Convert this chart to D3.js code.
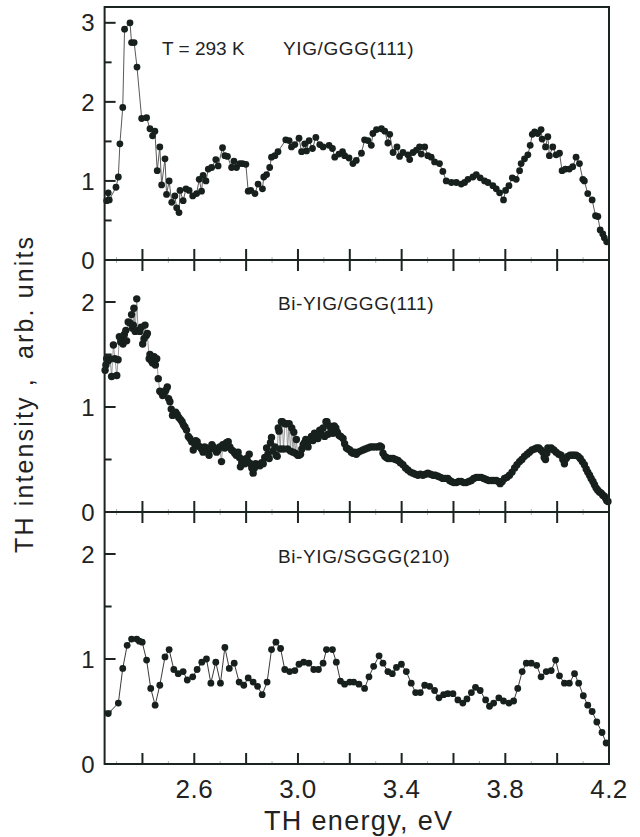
<!DOCTYPE html>
<meta charset="utf-8">
<style>
body { margin: 0; background: #fff; }
svg text { font-family: "Liberation Sans", Arial, Helvetica, sans-serif; fill: #222; }
.frame { fill: none; stroke: #1b2420; stroke-width: 2px; }
.tick { stroke: #1b2420; stroke-width: 2px; }
.mtick { stroke: #b5b5b5; stroke-width: 1px; }
.dot { fill: #17201c; }
</style>
<body>
<script src="https://d3js.org/d3.v7.min.js" charset="utf-8"></script>
<script>

// [TH energy (eV), TH intensity (arb. units)]
var yigGGG = [
  [2.262,0.75],[2.268,0.85],[2.272,0.76],[2.298,0.92],[2.307,1.05],[2.313,1.47],[2.324,1.93],[2.331,2.92],[2.352,3.00],[2.358,2.75],
  [2.368,2.75],[2.379,2.44],[2.397,1.79],[2.416,1.80],[2.429,1.66],[2.439,1.57],[2.448,1.63],[2.457,1.13],[2.467,1.43],[2.474,0.95],
  [2.487,1.28],[2.493,0.83],[2.503,1.00],[2.513,0.73],[2.525,0.81],[2.532,0.66],[2.541,0.60],[2.545,0.88],[2.557,0.75],[2.568,0.90],
  [2.580,0.88],[2.594,0.81],[2.609,0.84],[2.619,1.02],[2.628,0.87],[2.634,1.07],[2.645,1.00],[2.654,1.15],[2.667,1.17],[2.683,1.27],
  [2.692,1.19],[2.709,1.42],[2.718,1.32],[2.728,1.31],[2.744,1.17],[2.753,1.25],[2.763,1.17],[2.776,1.22],[2.786,1.22],[2.799,1.21],
  [2.808,0.87],[2.818,0.88],[2.834,0.84],[2.846,0.96],[2.863,0.90],[2.868,1.05],[2.879,1.08],[2.891,1.17],[2.898,1.30],[2.911,1.32],
  [2.923,1.37],[2.953,1.52],[2.966,1.51],[2.975,1.43],[2.988,1.46],[3.004,1.54],[3.014,1.37],[3.026,1.47],[3.033,1.38],[3.043,1.51],
  [3.056,1.41],[3.069,1.55],[3.084,1.46],[3.097,1.43],[3.120,1.45],[3.133,1.41],[3.142,1.30],[3.158,1.34],[3.172,1.37],[3.180,1.32],
  [3.197,1.29],[3.212,1.22],[3.225,1.26],[3.245,1.35],[3.257,1.52],[3.270,1.51],[3.283,1.45],[3.289,1.60],[3.303,1.65],[3.322,1.66],
  [3.335,1.63],[3.347,1.48],[3.354,1.59],[3.367,1.36],[3.382,1.43],[3.392,1.31],[3.405,1.36],[3.424,1.33],[3.431,1.27],[3.444,1.36],
  [3.457,1.39],[3.469,1.43],[3.476,1.34],[3.489,1.43],[3.501,1.32],[3.514,1.30],[3.527,1.24],[3.546,1.22],[3.559,1.12],[3.572,1.00],
  [3.592,0.98],[3.611,0.98],[3.630,0.96],[3.643,0.98],[3.656,1.02],[3.675,1.05],[3.688,1.08],[3.703,1.04],[3.720,1.00],[3.733,0.98],
  [3.752,0.94],[3.765,0.90],[3.778,0.85],[3.793,0.76],[3.801,0.88],[3.814,0.94],[3.827,1.04],[3.842,1.02],[3.855,1.13],[3.861,1.22],
  [3.874,1.28],[3.887,1.33],[3.896,1.45],[3.904,1.59],[3.913,1.62],[3.925,1.60],[3.938,1.65],[3.942,1.53],[3.955,1.43],[3.964,1.56],
  [3.970,1.32],[3.983,1.43],[3.996,1.33],[4.009,1.35],[4.019,1.13],[4.032,1.15],[4.047,1.15],[4.060,1.18],[4.073,1.30],[4.086,1.22],
  [4.099,1.02],[4.105,1.00],[4.118,0.84],[4.135,0.76],[4.148,0.56],[4.157,0.55],[4.166,0.38],[4.176,0.33],[4.182,0.28],[4.191,0.23]
];

var biYigGGG = [
  [2.256,1.35],[2.259,1.40],[2.262,1.46],[2.268,1.44],[2.275,1.46],[2.281,1.29],[2.288,1.59],[2.294,1.46],[2.301,1.30],[2.306,1.45],
  [2.311,1.67],[2.316,1.62],[2.320,1.64],[2.325,1.60],[2.330,1.69],[2.336,1.73],[2.339,1.63],[2.345,1.81],[2.352,1.80],[2.358,1.88],
  [2.362,1.75],[2.365,1.78],[2.367,1.94],[2.372,1.72],[2.378,2.03],[2.383,1.73],[2.390,1.72],[2.395,1.76],[2.401,1.60],[2.406,1.65],
  [2.410,1.78],[2.415,1.68],[2.419,1.70],[2.426,1.46],[2.429,1.50],[2.434,1.44],[2.439,1.42],[2.445,1.48],[2.450,1.40],[2.455,1.46],
  [2.461,1.27],[2.467,1.15],[2.472,1.14],[2.478,1.11],[2.484,1.13],[2.490,1.16],[2.496,1.19],[2.501,1.08],[2.506,1.05],[2.511,0.98],
  [2.516,0.92],[2.522,0.94],[2.528,0.95],[2.534,0.93],[2.540,0.90],[2.547,0.88],[2.553,0.86],[2.558,0.83],[2.564,0.81],[2.570,0.78],
  [2.577,0.72],[2.583,0.70],[2.590,0.67],[2.596,0.59],[2.601,0.65],[2.606,0.68],[2.611,0.67],[2.616,0.63],[2.622,0.62],[2.628,0.60],
  [2.634,0.57],[2.640,0.62],[2.647,0.61],[2.652,0.58],[2.657,0.54],[2.663,0.60],[2.668,0.64],[2.673,0.62],[2.679,0.60],[2.686,0.57],
  [2.692,0.59],[2.698,0.62],[2.705,0.48],[2.710,0.64],[2.718,0.61],[2.724,0.66],[2.731,0.67],[2.737,0.62],[2.744,0.59],[2.750,0.58],
  [2.756,0.56],[2.762,0.54],[2.769,0.57],[2.774,0.52],[2.778,0.43],[2.783,0.47],[2.788,0.50],[2.795,0.46],[2.802,0.51],[2.807,0.48],
  [2.812,0.55],[2.817,0.46],[2.822,0.42],[2.827,0.37],[2.832,0.42],[2.837,0.46],[2.845,0.45],[2.853,0.44],[2.860,0.47],[2.866,0.46],
  [2.872,0.52],[2.879,0.61],[2.884,0.55],[2.889,0.51],[2.894,0.66],[2.898,0.71],[2.904,0.58],[2.911,0.62],[2.916,0.54],[2.920,0.53],
  [2.924,0.80],[2.927,0.77],[2.932,0.60],[2.936,0.86],[2.940,0.86],[2.944,0.60],[2.950,0.84],[2.956,0.84],[2.960,0.60],[2.966,0.84],
  [2.971,0.58],[2.976,0.80],[2.981,0.57],[2.984,0.76],[2.990,0.56],[2.994,0.69],[2.999,0.54],[3.004,0.54],[3.010,0.55],[3.015,0.60],
  [3.020,0.64],[3.025,0.66],[3.030,0.69],[3.035,0.65],[3.039,0.62],[3.045,0.68],[3.052,0.72],[3.058,0.68],[3.064,0.75],[3.071,0.73],
  [3.077,0.70],[3.084,0.78],[3.090,0.74],[3.097,0.80],[3.103,0.72],[3.108,0.86],[3.112,0.86],[3.116,0.74],[3.122,0.82],[3.129,0.78],
  [3.135,0.75],[3.140,0.82],[3.146,0.80],[3.152,0.76],[3.158,0.73],[3.165,0.72],[3.174,0.70],[3.180,0.65],[3.187,0.61],[3.193,0.60],
  [3.200,0.59],[3.206,0.57],[3.212,0.56],[3.218,0.57],[3.225,0.55],[3.232,0.57],[3.241,0.58],[3.251,0.59],[3.260,0.60],[3.270,0.61],
  [3.280,0.62],[3.289,0.62],[3.299,0.62],[3.309,0.62],[3.316,0.63],[3.322,0.62],[3.328,0.56],[3.335,0.53],[3.341,0.52],[3.347,0.51],
  [3.357,0.51],[3.367,0.51],[3.376,0.50],[3.386,0.49],[3.395,0.47],[3.405,0.45],[3.415,0.42],[3.424,0.40],[3.434,0.38],[3.444,0.37],
  [3.453,0.36],[3.463,0.35],[3.472,0.36],[3.482,0.35],[3.492,0.36],[3.501,0.37],[3.511,0.36],[3.521,0.35],[3.530,0.35],[3.540,0.34],
  [3.550,0.33],[3.559,0.32],[3.569,0.32],[3.578,0.32],[3.585,0.30],[3.592,0.29],[3.601,0.28],[3.611,0.28],[3.620,0.29],[3.630,0.29],
  [3.640,0.28],[3.649,0.28],[3.659,0.29],[3.669,0.30],[3.678,0.32],[3.688,0.33],[3.697,0.33],[3.707,0.33],[3.717,0.32],[3.726,0.31],
  [3.736,0.30],[3.746,0.30],[3.755,0.30],[3.765,0.30],[3.773,0.29],[3.780,0.27],[3.788,0.29],[3.797,0.32],[3.806,0.33],[3.816,0.35],
  [3.826,0.38],[3.836,0.42],[3.845,0.45],[3.855,0.48],[3.864,0.50],[3.874,0.53],[3.884,0.55],[3.893,0.57],[3.903,0.59],[3.913,0.60],
  [3.921,0.61],[3.929,0.61],[3.937,0.59],[3.945,0.57],[3.950,0.52],[3.955,0.50],[3.960,0.56],[3.964,0.61],[3.970,0.60],[3.977,0.61],
  [3.987,0.59],[3.996,0.57],[4.006,0.55],[4.015,0.54],[4.022,0.50],[4.028,0.46],[4.035,0.51],[4.041,0.53],[4.050,0.54],[4.058,0.54],
  [4.065,0.54],[4.073,0.54],[4.081,0.53],[4.089,0.51],[4.097,0.48],[4.105,0.45],[4.112,0.41],[4.118,0.38],[4.125,0.35],[4.131,0.32],
  [4.138,0.29],[4.144,0.26],[4.150,0.23],[4.156,0.21],[4.163,0.19],[4.170,0.18],[4.176,0.16],[4.182,0.15],[4.187,0.13],[4.191,0.11],
  [4.196,0.10]
];

var biYigSGGG = [
  [2.268,0.48],[2.307,0.58],[2.324,0.91],[2.341,1.13],[2.358,1.19],[2.378,1.19],[2.388,1.17],[2.399,1.16],[2.416,0.99],[2.432,0.72],
  [2.449,0.56],[2.467,0.75],[2.487,1.02],[2.503,1.09],[2.521,0.90],[2.538,0.86],[2.557,0.88],[2.573,0.80],[2.594,0.83],[2.611,0.90],
  [2.629,0.97],[2.647,1.00],[2.664,0.77],[2.683,0.97],[2.701,0.77],[2.718,1.11],[2.735,0.91],[2.754,0.96],[2.773,0.78],[2.791,0.75],
  [2.808,0.82],[2.827,0.78],[2.844,0.74],[2.862,0.66],[2.881,0.78],[2.898,1.09],[2.915,1.16],[2.933,1.10],[2.949,0.90],[2.968,0.88],
  [2.988,0.89],[3.004,0.95],[3.022,0.97],[3.042,0.96],[3.061,0.90],[3.079,0.90],[3.097,0.96],[3.110,1.09],[3.133,1.09],[3.148,0.97],
  [3.164,0.79],[3.180,0.76],[3.200,0.78],[3.215,0.78],[3.235,0.76],[3.257,0.72],[3.274,0.83],[3.292,0.93],[3.313,1.03],[3.328,0.96],
  [3.347,0.88],[3.364,0.86],[3.380,0.92],[3.399,0.95],[3.418,0.88],[3.437,0.77],[3.454,0.68],[3.472,0.68],[3.489,0.75],[3.508,0.74],
  [3.527,0.70],[3.544,0.63],[3.562,0.66],[3.578,0.67],[3.598,0.67],[3.617,0.61],[3.636,0.58],[3.652,0.62],[3.669,0.68],[3.685,0.73],
  [3.703,0.70],[3.724,0.61],[3.739,0.55],[3.755,0.58],[3.775,0.63],[3.793,0.60],[3.814,0.58],[3.832,0.60],[3.848,0.72],[3.865,0.88],
  [3.881,0.96],[3.900,0.96],[3.921,0.94],[3.938,0.83],[3.958,0.88],[3.977,0.89],[3.994,0.99],[4.009,0.84],[4.028,0.77],[4.047,0.77],
  [4.067,0.86],[4.083,0.77],[4.101,0.65],[4.118,0.56],[4.135,0.50],[4.153,0.40],[4.173,0.30],[4.189,0.20]
];

var sampleLabels = ["YIG/GGG(111)", "Bi-YIG/GGG(111)", "Bi-YIG/SGGG(210)"];
var tempLabel = "T = 293 K";
var xTickLabels = [2.6, 3.0, 3.4, 3.8, 4.2];
var xMajorTicks = [2.4, 2.6, 2.8, 3.0, 3.2, 3.4, 3.6, 3.8, 4.0];
var xMinorTicks = [2.3, 2.5, 2.7, 2.9, 3.1, 3.3, 3.5, 3.7, 3.9, 4.1];
var yTopLabels = [0, 1, 2, 3];
var yLowLabels = [0, 1, 2];

var width = 640,
    height = 837;

var svg = d3.select("body").append("svg")
    .attr("width", width)
    .attr("height", height);

var left = 104.6, right = 609;

var x = d3.scaleLinear()
    .domain([2.254, 4.2])
    .range([left, right]);

// one entry per stacked panel, top to bottom
var panels = [
  { data: yigGGG, top: 7, bottom: 260, ymax: 3.2, labels: yTopLabels, minor: [0.5, 1.5, 2.5],
    name: sampleLabels[0], nameX: 283, nameY: 55, line: "#5a5a5a", lineW: 1, r: 3.4, ticksTop: false },
  { data: biYigGGG, top: 260, bottom: 512, ymax: 2.4, labels: yLowLabels, minor: [0.5, 1.5],
    name: sampleLabels[1], nameX: 278, nameY: 310, line: "#9a9a9a", lineW: 1, r: 3.7, ticksTop: true },
  { data: biYigSGGG, top: 512, bottom: 764, ymax: 2.4, labels: yLowLabels, minor: [0.5, 1.5],
    name: sampleLabels[2], nameX: 278, nameY: 563, line: "#3a3a3a", lineW: 1, r: 3.4, ticksTop: true }
];

panels.forEach(function(p) {
  var y = d3.scaleLinear().domain([0, p.ymax]).range([p.bottom, p.top]);
  var g = svg.append("g");

  // connecting line under the dots
  var line = d3.line().x(d => x(d[0])).y(d => y(d[1]));
  g.append("path")
      .datum(p.data)
      .attr("d", line)
      .attr("fill", "none")
      .attr("stroke", p.line)
      .attr("stroke-width", p.lineW);

  g.selectAll("circle")
      .data(p.data)
    .enter()
      .append("circle")
      .attr("class", "dot")
      .attr("cx", d => x(d[0]))
      .attr("cy", d => y(d[1]))
      .attr("r", p.r);

  // y ticks, inward
  g.selectAll("line.ymaj")
      .data(p.labels.filter(v => v > 0))
    .enter().append("line")
      .attr("class", "tick")
      .attr("x1", left).attr("x2", left + 11)
      .attr("y1", d => y(d)).attr("y2", d => y(d));
  g.selectAll("line.ymin")
      .data(p.minor)
    .enter().append("line")
      .attr("class", "tick")
      .attr("x1", left).attr("x2", left + 7)
      .attr("y1", d => y(d)).attr("y2", d => y(d));

  g.selectAll("text.ylab")
      .data(p.labels)
    .enter().append("text")
      .attr("x", 94.5)
      .attr("y", d => y(d))
      .attr("dy", "0.36em")
      .attr("text-anchor", "end")
      .style("font-size", "24px")
      .text(d => d);

  // x ticks on the bottom edge (pointing up) and top edge (pointing down)
  var edges = [{ y: p.bottom, dir: -1 }];
  if (p.ticksTop) edges.push({ y: p.top, dir: 1 });
  edges.forEach(function(e) {
    g.selectAll(null)
        .data(xMajorTicks)
      .enter().append("line")
        .attr("class", "tick")
        .attr("x1", d => x(d)).attr("x2", d => x(d))
        .attr("y1", e.y).attr("y2", e.y + e.dir * 11);
    g.selectAll(null)
        .data(xMinorTicks)
      .enter().append("line")
        .attr("class", "mtick")
        .attr("x1", d => x(d)).attr("x2", d => x(d))
        .attr("y1", e.y).attr("y2", e.y + e.dir * 3);
  });

  g.append("text")
      .attr("x", p.nameX)
      .attr("y", p.nameY)
      .style("font-size", "19px")
      .style("letter-spacing", "0.6px")
      .text(p.name);
});

svg.append("text")
    .attr("x", 162)
    .attr("y", 55)
    .style("font-size", "19px")
    .text(tempLabel);

// outer frame and panel dividers
svg.append("rect")
    .attr("class", "frame")
    .attr("x", left).attr("y", 7)
    .attr("width", right - left).attr("height", 764 - 7);
svg.selectAll("line.div")
    .data([260, 512])
  .enter().append("line")
    .attr("class", "tick")
    .attr("x1", left).attr("x2", right)
    .attr("y1", d => d).attr("y2", d => d);

svg.selectAll("text.xlab")
    .data(xTickLabels)
  .enter().append("text")
    .attr("x", d => x(d))
    .attr("y", 798)
    .attr("text-anchor", "middle")
    .style("font-size", "26px")
    .style("letter-spacing", "0.5px")
    .text(d => d3.format(".1f")(d));

svg.append("text")
    .attr("x", 358)
    .attr("y", 830)
    .attr("text-anchor", "middle")
    .attr("textLength", 188)
    .attr("lengthAdjust", "spacing")
    .style("font-size", "27px")
    .text("TH energy, eV");

svg.append("text")
    .attr("transform", "translate(33,395) rotate(-90)")
    .attr("text-anchor", "middle")
    .attr("textLength", 316)
    .attr("lengthAdjust", "spacing")
    .style("font-size", "25px")
    .style("white-space", "pre")
    .text("TH intensity ,  arb. units");

</script>
